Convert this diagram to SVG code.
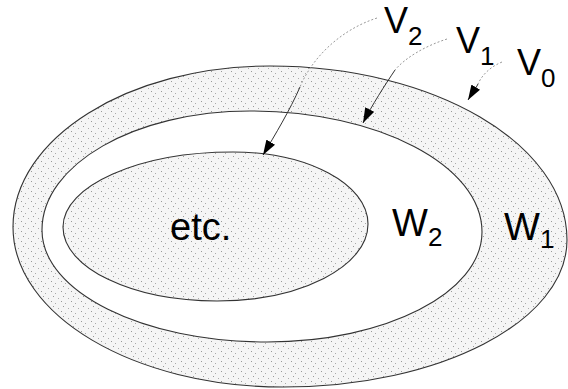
<svg xmlns="http://www.w3.org/2000/svg" width="568" height="389" viewBox="0 0 568 389">
<style>
.lbl{font-family:"Liberation Sans",Arial,sans-serif;font-size:38px;fill:#000}
.vl{font-size:36px}
.sub{font-size:26px}
.edge{fill:none;stroke:#333;stroke-width:1.1}
.lead-dot{fill:none;stroke:#999;stroke-width:1;stroke-dasharray:2 2}
.lead{fill:none;stroke:#333;stroke-width:1}
</style>
<defs>
<pattern id="stip" width="10" height="10" patternUnits="userSpaceOnUse">
<rect width="10" height="10" fill="#f5f5f5"/>
<rect x="1" y="1" width="1" height="1" fill="#999"/>
<rect x="5" y="3" width="1" height="1" fill="#aaa"/>
<rect x="3" y="6" width="1" height="1" fill="#999"/>
<rect x="8" y="8" width="1" height="1" fill="#aaa"/>
</pattern>
<marker id="arr" markerUnits="userSpaceOnUse" markerWidth="16" markerHeight="10" refX="15" refY="5" orient="auto">
<path d="M0,0 L15,5 L0,10 z" fill="#000"/>
</marker>
</defs>
<g id="region-W1">
<path fill="url(#stip)" fill-rule="evenodd" d="M13,227 C13,138.1 128.1,66 270,66 C434,66 567,143.9 567,240 C567,321.2 439.9,387 283,387 C133.9,387 13,315.4 13,227 Z M42,230 C42,164.3 135.1,111 250,111 C378.1,111 482,165.2 482,232 C482,292.8 385.7,342 267,342 C142.7,342 42,291.9 42,230 Z"/>
<path class="edge" d="M13,227 C13,138.1 128.1,66 270,66 C434,66 567,143.9 567,240 C567,321.2 439.9,387 283,387 C133.9,387 13,315.4 13,227 Z"/>
<text id="W1" class="lbl" x="504" y="240">W<tspan class="sub" dy="8">1</tspan></text>
</g>
<g id="region-W2">
<path class="edge" d="M42,230 C42,164.3 135.1,111 250,111 C378.1,111 482,165.2 482,232 C482,292.8 385.7,342 267,342 C142.7,342 42,291.9 42,230 Z"/>
<text id="W2" class="lbl" x="392" y="236">W<tspan class="sub" dy="10">2</tspan></text>
</g>
<g id="region-etc">
<path class="edge" style="fill:url(#stip)" d="M63,227 C63,185.6 139.1,152 233,152 C307.6,152 368,184.2 368,224 C368,266.5 300.4,301 217,301 C132,301 63,267.9 63,227 Z"/>
<text class="lbl" x="170" y="240">etc.</text>
</g>
<g id="labels">
<text id="V2" class="lbl vl" x="384" y="33">V<tspan class="sub" dy="12">2</tspan></text>
<text id="V1" class="lbl vl" x="456" y="53">V<tspan class="sub" dy="12">1</tspan></text>
<text id="V0" class="lbl vl" x="517" y="75">V<tspan class="sub" dy="12">0</tspan></text>
</g>
<g id="connectors">
<path class="lead-dot" d="M377,18 C340,30 312,58 300,87"/>
<path class="lead" d="M300,87 C290,110 275,135 263,155" marker-end="url(#arr)"/>
<path class="lead-dot" d="M447,39 C425,46 405,58 395,70"/>
<path class="lead" d="M395,70 C385,85 372,105 363,123" marker-end="url(#arr)"/>
<path class="lead-dot" d="M502,62 C490,67 482,75 478,84"/>
<path class="lead" d="M478,84 C475,90 471,95 468,100" marker-end="url(#arr)"/>
</g>
</svg>
